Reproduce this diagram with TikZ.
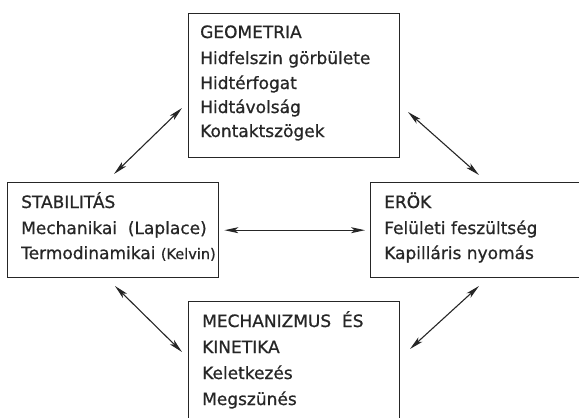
\documentclass[tikz,border=0pt]{standalone}
\usepackage{fontspec}
\setmainfont{DejaVu Sans}[FakeBold=0.8]
\usetikzlibrary{arrows.meta}
\begin{document}
\begin{tikzpicture}[x=1pt,y=-1pt,
  box/.style={draw=black!85,line width=1.4pt,rectangle,inner sep=0pt,anchor=north west},
  txt/.style={anchor=base west,inner sep=0pt,text=black!85,font=\fontsize{17}{20}\selectfont},
  tip/.style={Stealth[length=14pt,width=6pt,inset=3.5pt]},
  arr/.style={draw=black!85,line width=1.1pt,{Stealth[length=14pt,width=6pt,inset=3.5pt]}-{Stealth[length=14pt,width=6pt,inset=3.5pt]}}]
\useasboundingbox (0,0) rectangle (579,418);
\clip (0,0) rectangle (579,418);
% boxes
\node[box,minimum width=211pt,minimum height=144pt] (geo) at (188,13) {};
\node[box,minimum width=211pt,minimum height=95pt] (stab) at (7,182) {};
\node[box,minimum width=220pt,minimum height=95pt] (erok) at (370,182) {};
\node[box,minimum width=211pt,minimum height=130pt] (mech) at (188,301) {};
% texts
\node[txt] (g1) at (200,38) {GEOMETRIA};
\node[txt] (g2) at (200,64) {Hidfelszin görbülete};
\node[txt] (g3) at (200,89) {Hidtérfogat};
\node[txt] (g4) at (200,113) {Hidtávolság};
\node[txt] (g5) at (200,137) {Kontaktszögek};
\node[txt] (s1) at (21,208) {STABILITÁS};
\node[txt] (s2) at (21,234) {Mechanikai\ \ (Laplace)};
\node[txt] (s3) at (21,259) {Termodinamikai {\fontsize{14.5}{16}\selectfont(Kelvin)}};
\node[txt] (e1) at (384,208) {ERÖK};
\node[txt] (e2) at (384,234) {Felületi feszültség};
\node[txt] (e3) at (384,259) {Kapilláris nyomás};
\node[txt] (m1) at (202,327) {MECHANIZMUS\ \ ÉS};
\node[txt] (m2) at (202,353) {KINETIKA};
\node[txt] (m3) at (202,379) {Keletkezés};
\node[txt] (m4) at (202,405) {Megszünés};
% arrow ends
\coordinate (gsA) at (182,108);
\coordinate (gsB) at (114,174);
\coordinate (geA) at (408,112);
\coordinate (geB) at (479,175);
\coordinate (smA) at (115,286);
\coordinate (smB) at (182,352);
\coordinate (emA) at (479,286);
\coordinate (emB) at (410,349);
% connectors
\draw[arr] (gsA) -- (gsB);
\draw[arr] (geA) -- (geB);
\draw[arr,shorten <=5pt,shorten >=5pt] (stab.east) -- (erok.west);
\draw[arr] (smA) -- (smB);
\draw[arr] (emA) -- (emB);
\end{tikzpicture}
\end{document}
